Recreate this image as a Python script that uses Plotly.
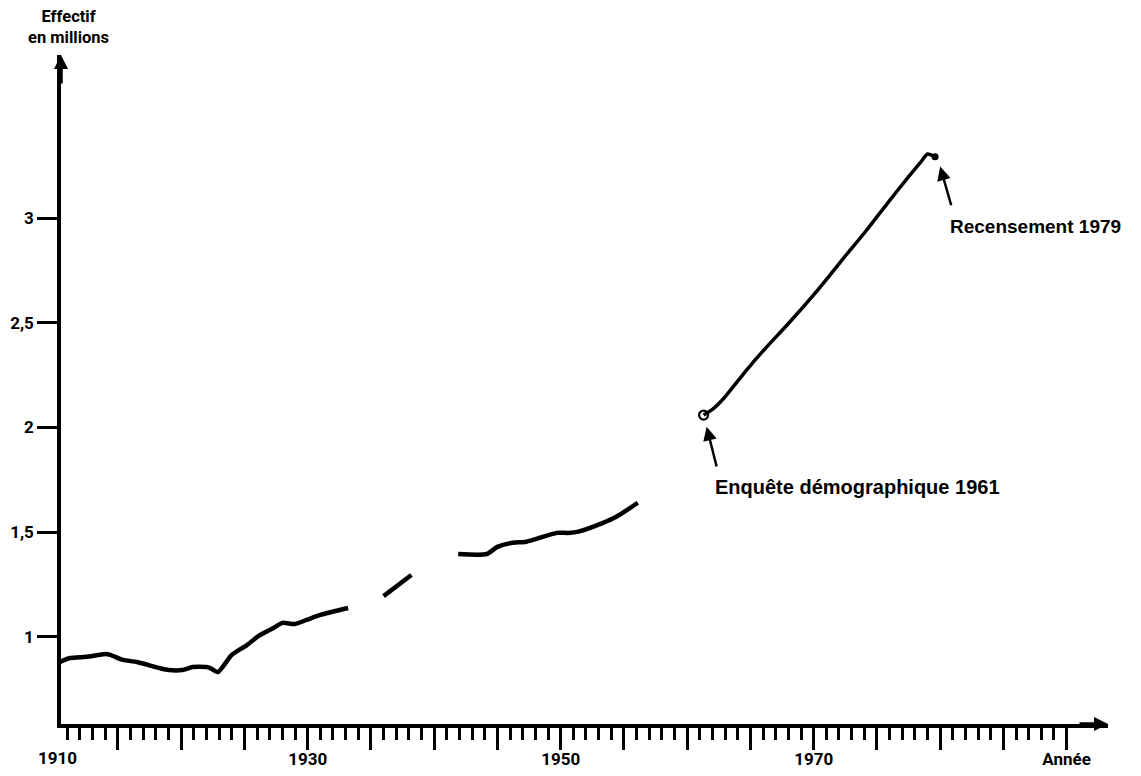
import plotly.graph_objects as go

# ---- Data (year, population in millions) ----
years_1910_1933 = [1910.4, 1911.2, 1912.5, 1914.0, 1914.4, 1915.4, 1916.5, 1918.3, 1919.0,
                   1920.1, 1920.9, 1922.0, 1922.3, 1922.9, 1924.0, 1925.2, 1926.1, 1927.3,
                   1928.0, 1929.0, 1929.9, 1931.0, 1933.2]
values_1910_1933 = [0.879, 0.898, 0.904, 0.917, 0.913, 0.889, 0.879, 0.850, 0.841,
                    0.841, 0.855, 0.855, 0.850, 0.831, 0.913, 0.960, 1.003, 1.042,
                    1.066, 1.061, 1.080, 1.104, 1.137]
years_1936_1938 = [1936.0, 1938.2]
values_1936_1938 = [1.194, 1.295]
years_1942_1956 = [1941.9, 1944.15, 1945.0, 1946.1, 1947.3, 1949.7, 1950.6, 1951.4,
                   1953.3, 1954.4, 1956.1]
values_1942_1956 = [1.395, 1.395, 1.429, 1.448, 1.454, 1.496, 1.496, 1.502,
                    1.543, 1.573, 1.640]
years_1961_1979 = [1961.3, 1962.1, 1962.9, 1964.7, 1966.3, 1967.9, 1970.0, 1971.0,
                   1972.6, 1974.2, 1975.8, 1977.4, 1978.4, 1979.0, 1979.6]
values_1961_1979 = [2.059, 2.091, 2.139, 2.274, 2.385, 2.489, 2.633, 2.706,
                    2.826, 2.943, 3.068, 3.190, 3.262, 3.306, 3.293]

y_tickvals = [1, 1.5, 2, 2.5, 3]
y_ticktext = ["1", "1,5", "2", "2,5", "3"]
x_major_ticks = list(range(1915, 1991, 5))
x_major_text = {1930: "1930", 1950: "1950", 1970: "1970", 1990: "Année"}
x_minor_ticks = [y for y in range(1911, 1990) if y % 5 != 0]
x_first_label = "1910"

enquete_label = "Enquête démographique 1961"
recensement_label = "Recensement 1979"
y_title = "Effectif<br>en millions"

NARROW = "Liberation Sans Narrow, Roboto, Liberation Sans, sans-serif"
SANS = "Liberation Sans, Arial, Helvetica, sans-serif"

fig = go.Figure()
for xs, ys, w in [(years_1910_1933, values_1910_1933, 4.5),
                  (years_1936_1938, values_1936_1938, 4.5),
                  (years_1942_1956, values_1942_1956, 4.5),
                  (years_1961_1979, values_1961_1979, 3.5)]:
    fig.add_trace(go.Scatter(x=xs, y=ys, mode="lines",
                             line=dict(color="black", width=w, shape="spline", smoothing=0.6),
                             showlegend=False, hoverinfo="skip"))

# endpoints: open circle for the 1961 survey, dot for the 1979 census
fig.add_trace(go.Scatter(x=[years_1961_1979[0]], y=[values_1961_1979[0]], mode="markers",
                         marker=dict(symbol="circle-open", size=9, color="black",
                                     line=dict(width=2.2, color="black")),
                         showlegend=False, hoverinfo="skip"))
fig.add_trace(go.Scatter(x=[years_1961_1979[-1]], y=[values_1961_1979[-1]], mode="markers",
                         marker=dict(symbol="circle", size=7, color="black"),
                         showlegend=False, hoverinfo="skip"))

x_range = [1910.5, 1993.27]
y_range = [0.583, 3.779]

# page body adds an 8 px margin, so the figure is sized/positioned to compensate
fig.update_layout(
    width=1133, height=768,
    margin=dict(l=53, r=33, t=47, b=52, pad=0, autoexpand=False),
    plot_bgcolor="white", paper_bgcolor="white",
    xaxis=dict(range=x_range, showgrid=False, zeroline=False, automargin=False,
               showline=True, linecolor="black", linewidth=3.5,
               tickmode="array", tickvals=x_major_ticks,
               ticktext=[x_major_text.get(v, "") for v in x_major_ticks],
               ticks="outside", ticklen=22, tickwidth=2.5, tickcolor="black",
               ticklabelstandoff=-5,
               tickfont=dict(family=NARROW, size=17, color="black", weight="bold"),
               minor=dict(tickmode="array", tickvals=x_minor_ticks, ticks="outside",
                          ticklen=12, tickwidth=2.5, tickcolor="black", showgrid=False)),
    yaxis=dict(range=y_range, showgrid=False, zeroline=False, automargin=False,
               showline=True, linecolor="black", linewidth=3.5,
               tickmode="array", tickvals=y_tickvals, ticktext=y_ticktext,
               ticks="outside", ticklen=20, tickwidth=3, tickcolor="black",
               tickfont=dict(family=NARROW, size=17, color="black", weight="bold")),
)

annotations = [
    # y-axis title
    dict(text=y_title, xref="paper", yref="paper", x=0, y=1, xanchor="center",
         yanchor="bottom", xshift=7, yshift=6, showarrow=False, align="center",
         font=dict(family=NARROW, size=16.5, color="black", weight="bold")),
    # axis arrows
    dict(text="", xref="paper", yref="paper", x=0, y=1, ax=0, ay=30, showarrow=True,
         arrowhead=2, arrowsize=0.8, arrowwidth=3.5, arrowcolor="black"),
    dict(text="", xref="paper", yref="paper", x=1, y=0, ax=-30, ay=0, showarrow=True,
         arrowhead=2, arrowsize=0.8, arrowwidth=3.5, arrowcolor="black"),
    # 1910 label (just left of the y axis line)
    dict(text=x_first_label, xref="paper", yref="paper", x=0, y=0, xanchor="center",
         yanchor="top", xshift=-4, yshift=-22, showarrow=False,
         font=dict(family=NARROW, size=17, color="black", weight="bold")),
    # labels
    dict(text=recensement_label, xref="x", yref="y", x=1980.62, y=2.962,
         xanchor="left", yanchor="middle", showarrow=False,
         font=dict(family=SANS, size=19, color="black", weight="bold")),
    dict(text=enquete_label, xref="x", yref="y", x=1962.04, y=1.715,
         xanchor="left", yanchor="middle", showarrow=False,
         font=dict(family=SANS, size=20, color="black", weight="bold")),
    # label arrows
    dict(text="", xref="x", yref="y", x=1980.0, y=3.246, axref="x", ayref="y",
         ax=1980.91, ay=3.054, showarrow=True, arrowhead=2, arrowsize=1.1,
         arrowwidth=2.5, arrowcolor="black"),
    dict(text="", xref="x", yref="y", x=1961.54, y=2.003, axref="x", ayref="y",
         ax=1962.36, ay=1.806, showarrow=True, arrowhead=2, arrowsize=1.1,
         arrowwidth=2.5, arrowcolor="black"),
]
fig.update_layout(annotations=annotations)

fig.write_html("out.html")
